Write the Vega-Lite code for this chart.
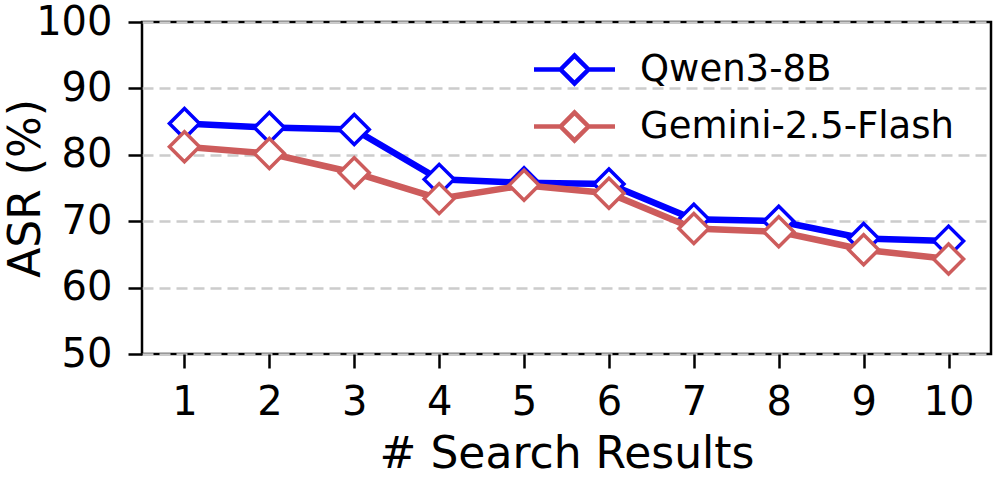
{
  "$schema": "https://vega.github.io/schema/vega-lite/v6.json",
  "autosize": "none",
  "width": 849,
  "height": 332,
  "padding": {"left": 142, "top": 22, "right": 7, "bottom": 133},
  "background": "white",
  "config": {
    "font": "DejaVu Sans",
    "view": {"stroke": "black", "strokeWidth": 2.5},
    "axis": {
      "labelFont": "DejaVu Sans",
      "titleFont": "DejaVu Sans",
      "labelFontSize": 40,
      "titleFontSize": 44,
      "titleFontWeight": "normal",
      "labelColor": "black",
      "titleColor": "black",
      "tickColor": "black",
      "tickWidth": 2.5,
      "tickSize": 14,
      "domain": false
    }
  },
  "data": {
    "values": [
      {"k": 1, "asr": 84.7, "model": "Qwen3-8B"},
      {"k": 2, "asr": 84.1, "model": "Qwen3-8B"},
      {"k": 3, "asr": 83.8, "model": "Qwen3-8B"},
      {"k": 4, "asr": 76.3, "model": "Qwen3-8B"},
      {"k": 5, "asr": 75.8, "model": "Qwen3-8B"},
      {"k": 6, "asr": 75.6, "model": "Qwen3-8B"},
      {"k": 7, "asr": 70.3, "model": "Qwen3-8B"},
      {"k": 8, "asr": 70.0, "model": "Qwen3-8B"},
      {"k": 9, "asr": 67.4, "model": "Qwen3-8B"},
      {"k": 10, "asr": 67.0, "model": "Qwen3-8B"},
      {"k": 1, "asr": 81.2, "model": "Gemini-2.5-Flash"},
      {"k": 2, "asr": 80.2, "model": "Gemini-2.5-Flash"},
      {"k": 3, "asr": 77.3, "model": "Gemini-2.5-Flash"},
      {"k": 4, "asr": 73.4, "model": "Gemini-2.5-Flash"},
      {"k": 5, "asr": 75.4, "model": "Gemini-2.5-Flash"},
      {"k": 6, "asr": 74.2, "model": "Gemini-2.5-Flash"},
      {"k": 7, "asr": 68.9, "model": "Gemini-2.5-Flash"},
      {"k": 8, "asr": 68.4, "model": "Gemini-2.5-Flash"},
      {"k": 9, "asr": 65.7, "model": "Gemini-2.5-Flash"},
      {"k": 10, "asr": 64.3, "model": "Gemini-2.5-Flash"}
    ]
  },
  "encoding": {
    "x": {
      "field": "k",
      "type": "quantitative",
      "scale": {"domain": [0.5, 10.5], "nice": false, "zero": false},
      "axis": {
        "values": [1, 2, 3, 4, 5, 6, 7, 8, 9, 10],
        "title": "# Search Results",
        "grid": false,
        "labelPadding": 14,
        "titlePadding": 10,
        "labelFlush": false
      }
    },
    "y": {
      "field": "asr",
      "type": "quantitative",
      "scale": {"domain": [50, 100], "nice": false, "zero": false},
      "axis": {
        "values": [50, 60, 70, 80, 90, 100],
        "title": "ASR (%)",
        "grid": true,
        "gridColor": "#cccccc",
        "gridWidth": 2.5,
        "gridDash": [11, 6],
        "labelPadding": 16,
        "titlePadding": -13,
        "labelFlush": false
      }
    },
    "stroke": {
      "field": "model",
      "type": "nominal",
      "scale": {
        "domain": ["Qwen3-8B", "Gemini-2.5-Flash"],
        "range": ["#0000ff", "#cd5c5c"]
      },
      "legend": {
        "title": null,
        "orient": "none",
        "legendX": 414,
        "legendY": 29,
        "padding": 0,
        "symbolType": "M-2.7,0L-0.93,0M0.93,0L2.7,0M-0.93,0L0,-0.93L0.93,0L0,0.93Z",
        "symbolSize": 900,
        "symbolStrokeWidth": 4.5,
        "symbolFillColor": "white",
        "symbolOpacity": 1,
        "labelFont": "DejaVu Sans",
        "labelFontSize": 37,
        "labelColor": "black",
        "labelOffset": 47,
        "rowPadding": 10,
        "labelLimit": 500
      }
    }
  },
  "layer": [
    {
      "transform": [{"filter": "datum.model === 'Qwen3-8B'"}],
      "mark": {"type": "line", "strokeWidth": 6.5}
    },
    {
      "transform": [{"filter": "datum.model === 'Qwen3-8B'"}],
      "mark": {"type": "point", "shape": "diamond", "size": 900, "filled": true, "fill": "white", "strokeWidth": 3.5, "opacity": 1}
    },
    {
      "transform": [{"filter": "datum.model === 'Gemini-2.5-Flash'"}],
      "mark": {"type": "line", "strokeWidth": 6.5}
    },
    {
      "transform": [{"filter": "datum.model === 'Gemini-2.5-Flash'"}],
      "mark": {"type": "point", "shape": "diamond", "size": 900, "filled": true, "fill": "white", "strokeWidth": 3.5, "opacity": 1}
    }
  ]
}
